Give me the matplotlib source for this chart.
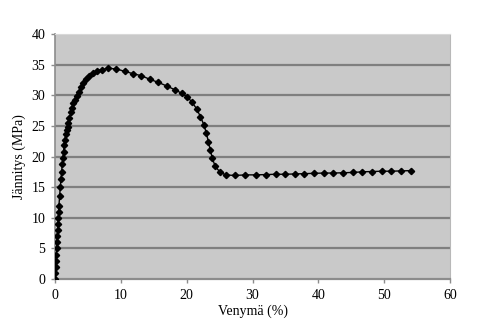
import matplotlib
matplotlib.use("Agg")
import matplotlib.pyplot as plt

# Tensile test: strain (%) vs. stress (MPa)
strain = [0.0, 0.05, 0.1, 0.15, 0.2, 0.25, 0.3, 0.35, 0.4, 0.45, 0.5, 0.55, 0.6,
          0.7, 0.8, 0.9, 1.0, 1.1, 1.2, 1.3, 1.4, 1.5, 1.6, 1.75, 1.9, 2.05, 2.2,
          2.4, 2.6, 2.8, 3.0, 3.3, 3.6, 3.9, 4.3, 4.7, 5.2, 5.8, 6.4, 7.1, 8.1,
          9.3, 10.6, 11.9, 13.1, 14.4, 15.7, 17.0, 18.2, 19.3, 20.1, 20.8, 21.5,
          22.1, 22.6, 23.0, 23.3, 23.6, 23.9, 24.3, 25.0, 25.9, 27.3, 28.9, 30.5,
          32.0, 33.5, 34.9, 36.4, 37.8, 39.3, 40.8, 42.3, 43.8, 45.3, 46.7, 48.2,
          49.7, 51.1, 52.6, 54.1]
stress = [0.0, 1.0, 2.0, 3.0, 4.0, 5.0, 6.0, 7.0, 8.0, 9.0, 10.0, 11.0, 12.0,
          13.5, 15.0, 16.3, 17.5, 18.7, 19.8, 20.8, 21.8, 22.7, 23.6, 24.3, 24.8,
          25.5, 26.3, 27.2, 28.0, 28.7, 29.3, 29.9, 30.6, 31.3, 32.0, 32.6, 33.2,
          33.7, 34.0, 34.2, 34.4, 34.3, 33.9, 33.5, 33.2, 32.6, 32.1, 31.5, 30.9,
          30.3, 29.7, 28.9, 27.8, 26.5, 25.2, 23.8, 22.4, 21.0, 19.7, 18.5, 17.5,
          17.0, 16.9, 17.0, 17.0, 17.05, 17.1, 17.1, 17.15, 17.2, 17.25, 17.3,
          17.3, 17.35, 17.4, 17.5, 17.55, 17.6, 17.6, 17.65, 17.7]

x_ticks = [0, 10, 20, 30, 40, 50, 60]
y_ticks = [0, 5, 10, 15, 20, 25, 30, 35, 40]

plt.rcParams["font.family"] = ["Liberation Serif", "DejaVu Serif"]

fig = plt.figure(figsize=(4.84, 3.35), dpi=100)
ax = fig.add_axes([55 / 484, 1 - 279 / 335, 395 / 484, 245 / 335])
ax.set_facecolor("#c9c9c9")

for v in y_ticks[1:-1]:
    ax.axhline(v, color="#7f7f7f", lw=1.6, zorder=1)

ax.plot(strain, stress, color="black", lw=1.0, marker="D", ms=3.2,
        mec="black", mfc="black", zorder=3)

ax.set_xlim(0, 60)
ax.set_ylim(0, 40)
ax.set_xticks(x_ticks)
ax.set_yticks(y_ticks)
ax.tick_params(axis="both", direction="out", length=3, width=1,
               color="#8c8c8c", labelsize=10, pad=4)

ax.spines["left"].set_color("#8c8c8c")
ax.spines["bottom"].set_color("#8c8c8c")
ax.spines["left"].set_linewidth(1.2)
ax.spines["bottom"].set_linewidth(1.6)
ax.spines["top"].set_color("#d8d8d8")
ax.spines["right"].set_color("#b8b8b8")

ax.set_xlabel("Venymä (%)", fontsize=10, labelpad=2)
ax.set_ylabel("Jännitys (MPa)", fontsize=10, labelpad=4)

fig.savefig("out.png", dpi=100)
